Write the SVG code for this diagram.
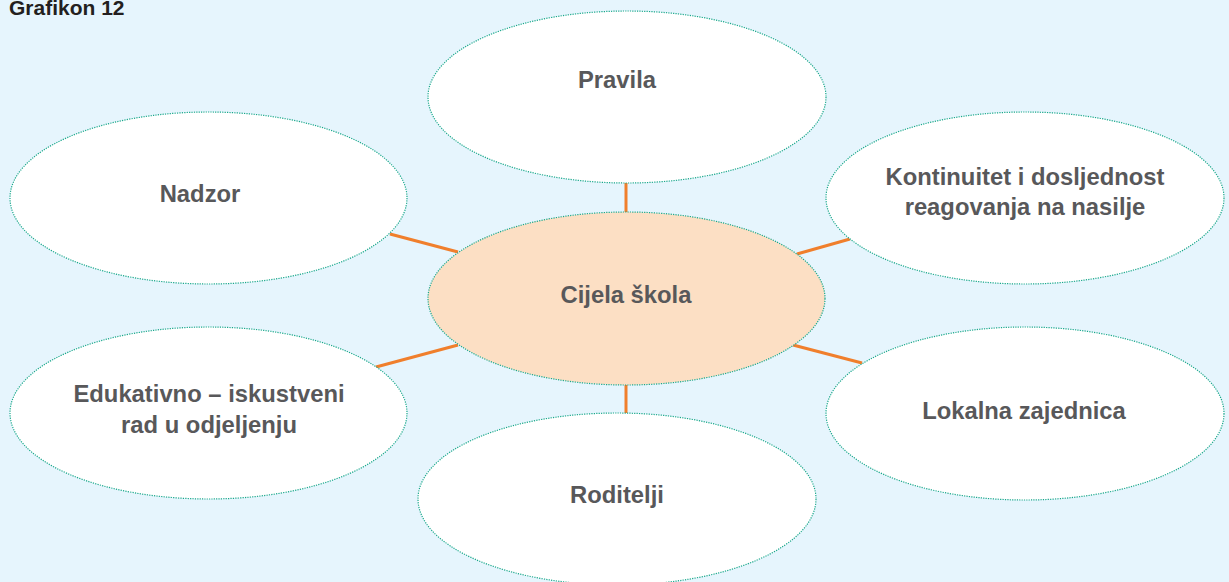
<svg xmlns="http://www.w3.org/2000/svg" width="1229" height="582" viewBox="0 0 1229 582">
<style>
.node{fill:#ffffff;stroke:#1aa88a;stroke-width:1.2;stroke-dasharray:1.2 1.2}
.center{fill:#fcdfc4}
.lbl{font-family:"Liberation Sans",Arial,sans-serif;font-weight:bold;font-size:23.8px;fill:#58585a;text-anchor:middle}
.conn line{stroke:#f07f2c;stroke-width:3}
</style>
<rect x="0" y="0" width="1229" height="582" fill="#e6f5fd"/>
<text x="9" y="15" font-family="Liberation Sans, Arial, sans-serif" font-weight="bold" font-size="21" fill="#231f20">Grafikon 12</text>
<g id="connectors" class="conn">
<line x1="626" y1="183" x2="626" y2="212"/>
<line x1="626" y1="385" x2="626" y2="413"/>
<line x1="390" y1="234" x2="458" y2="252"/>
<line x1="797" y1="254" x2="850" y2="239"/>
<line x1="376" y1="367" x2="458" y2="345"/>
<line x1="793" y1="345" x2="862" y2="363"/>
</g>
<g id="pravila">
<ellipse class="node" cx="627" cy="97" rx="199" ry="86"/>
<text class="lbl" x="617" y="88">Pravila</text>
</g>
<g id="nadzor">
<ellipse class="node" cx="208.5" cy="198" rx="198.5" ry="86"/>
<text class="lbl" x="200" y="202">Nadzor</text>
</g>
<g id="kontinuitet">
<ellipse class="node" cx="1025" cy="198" rx="199" ry="86"/>
<text class="lbl" x="1025" y="185">Kontinuitet i dosljednost</text>
<text class="lbl" x="1025" y="215">reagovanja na nasilje</text>
</g>
<g id="edukativno">
<ellipse class="node" cx="208.5" cy="413" rx="198.5" ry="86"/>
<text class="lbl" x="209" y="402">Edukativno – iskustveni</text>
<text class="lbl" x="209" y="433">rad u odjeljenju</text>
</g>
<g id="lokalna">
<ellipse class="node" cx="1025" cy="413.5" rx="199" ry="86.5"/>
<text class="lbl" x="1024" y="419">Lokalna zajednica</text>
</g>
<g id="roditelji">
<ellipse class="node" cx="617" cy="499" rx="199" ry="86"/>
<text class="lbl" x="617" y="503">Roditelji</text>
</g>
<g id="cijela">
<ellipse class="node center" cx="626.5" cy="298.5" rx="198.5" ry="86.5"/>
<text class="lbl" x="626" y="303">Cijela škola</text>
</g>
</svg>
